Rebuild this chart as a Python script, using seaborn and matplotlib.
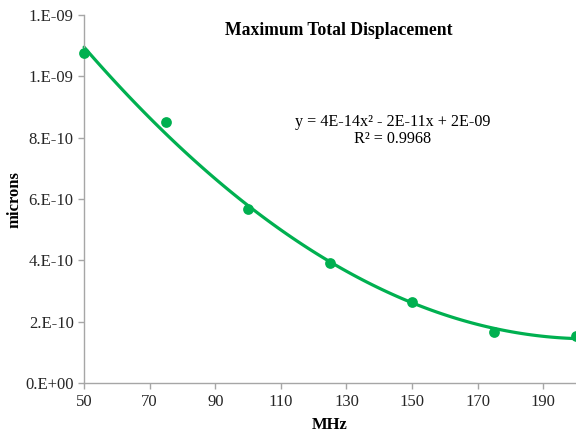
import numpy as np
import pandas as pd
import matplotlib
matplotlib.use("Agg")
import matplotlib.pyplot as plt
import matplotlib.ticker as mticker
import seaborn as sns

# -----------------------------------------------------------------------------
# Data
# -----------------------------------------------------------------------------
freq_mhz = [50, 75, 100, 125, 150, 175, 200]
displacement = [1.076e-9, 8.50e-10, 5.67e-10, 3.91e-10, 2.64e-10, 1.66e-10, 1.55e-10]
x_ticks = [50, 70, 90, 110, 130, 150, 170, 190]
y_ticks = [0.0, 2e-10, 4e-10, 6e-10, 8e-10, 1.0e-9, 1.2e-9]

TITLE = "Maximum Total Displacement"
EQUATION = "y = 4E-14x² - 2E-11x + 2E-09"
R_SQUARED = "R² = 0.9968"

GREEN = "#00B050"
AXIS_GRAY = "#A6A6A6"

df = pd.DataFrame({"MHz": freq_mhz, "microns": displacement})


def excel_sci(v, pos=None):
    # mimic Excel's "0.E+00" number format
    if v == 0:
        return "0.E+00"
    exp = int(np.floor(np.log10(abs(v))))
    mant = int(round(v / 10 ** exp))
    if mant == 10:
        mant, exp = 1, exp + 1
    return f"{mant}.E{exp:+03d}"


sns.set_style("ticks")
plt.rcParams["font.family"] = ["Liberation Serif", "DejaVu Serif"]

fig = plt.figure(figsize=(5.76, 4.32), dpi=100)
ax = fig.add_axes([0.146, 0.113, 0.854, 0.852])

sns.regplot(
    data=df, x="MHz", y="microns", order=2, ci=None, ax=ax,
    color=GREEN,
    scatter_kws={"s": 60, "alpha": 1, "clip_on": False, "zorder": 3, "linewidths": 0},
    line_kws={"lw": 2.3, "clip_on": False},
)

ax.set_xlim(50, 200)
ax.set_ylim(0, 1.2e-9)
ax.set_xticks(x_ticks)
ax.set_yticks(y_ticks)
ax.yaxis.set_major_formatter(mticker.FuncFormatter(excel_sci))

ax.set_xlabel("MHz", fontsize=12, fontweight="bold", labelpad=5, color="black")
ax.set_ylabel("microns", fontsize=12, fontweight="bold", labelpad=2, color="black")
ax.tick_params(labelsize=12, color=AXIS_GRAY, labelcolor="#262626", length=4, width=1)

for side in ["top", "right"]:
    ax.spines[side].set_visible(False)
for side in ["left", "bottom"]:
    ax.spines[side].set_color(AXIS_GRAY)
    ax.spines[side].set_linewidth(1)

ax.text(0.518, 0.959, TITLE, transform=ax.transAxes, ha="center", va="center",
        fontsize=12.7, fontweight="bold", color="black")
ax.text(0.628, 0.686, EQUATION + "\n" + R_SQUARED, transform=ax.transAxes,
        ha="center", va="center", fontsize=11.6, linespacing=1.1, color="black")

fig.savefig("out.png", dpi=100)
